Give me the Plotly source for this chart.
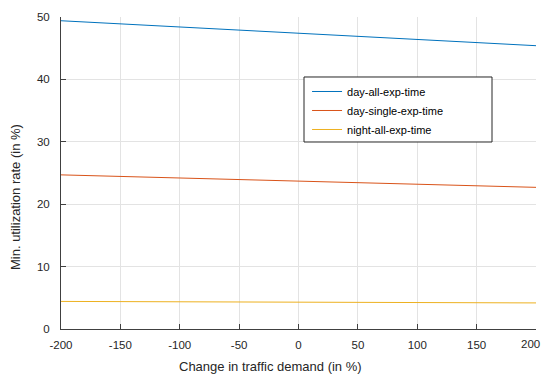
import plotly.graph_objects as go

# Change in traffic demand (in %)
demand_change = [-200, -150, -100, -50, 0, 50, 100, 150, 200]

# Minimum utilization rate (in %) per scheduling variant
day_all_exp_time = [49.4, 48.9, 48.4, 47.9, 47.4, 46.9, 46.4, 45.9, 45.4]
day_single_exp_time = [24.7, 24.45, 24.2, 23.95, 23.7, 23.45, 23.2, 22.95, 22.7]
night_all_exp_time = [4.42, 4.39, 4.36, 4.33, 4.30, 4.27, 4.24, 4.21, 4.18]

series_names = ["day-all-exp-time", "day-single-exp-time", "night-all-exp-time"]
series_values = [day_all_exp_time, day_single_exp_time, night_all_exp_time]
series_colors = ["#0072BD", "#D95319", "#EDB120"]

x_ticks = [-200, -150, -100, -50, 0, 50, 100, 150, 200]
y_ticks = [0, 10, 20, 30, 40, 50]

FONT = "Liberation Sans, Arial, Helvetica, sans-serif"
TEXT_COLOR = "#262626"

fig = go.Figure()
for name, vals, col in zip(series_names, series_values, series_colors):
    fig.add_trace(go.Scatter(
        x=demand_change, y=vals, mode="lines", name=name,
        line=dict(color=col, width=1),
    ))

axis_common = dict(
    showline=True, linecolor="#404040", linewidth=1,
    ticks="inside", ticklen=5, tickcolor="#404040", tickwidth=1,
    showgrid=True, gridcolor="#e3e3e3", gridwidth=1,
    zeroline=False, mirror=False,
    automargin=False,
    ticklabeloverflow="allow",
    tickfont=dict(family=FONT, size=11.5, color=TEXT_COLOR),
)

# the last x label sits at the page edge, so it is drawn right-aligned separately
x_ticktext = [str(v) for v in x_ticks[:-1]] + [""]

fig.update_xaxes(
    range=[-200, 200], tickvals=x_ticks,
    ticktext=x_ticktext,
    ticklabelstandoff=5,
    **axis_common,
)
fig.update_yaxes(
    range=[0, 50], tickvals=y_ticks,
    ticktext=[str(v) for v in y_ticks],
    ticklabelstandoff=8,
    **axis_common,
)

fig.add_annotation(
    text=str(x_ticks[-1]), x=x_ticks[-1], y=0, xref="x", yref="y",
    xanchor="right", yanchor="top", xshift=6, yshift=-7, showarrow=False,
    font=dict(family=FONT, size=11.5, color=TEXT_COLOR),
)

# axis titles as annotations
fig.add_annotation(
    text="Change in traffic demand (in %)",
    xref="paper", yref="paper", x=0.44, y=-0.1186,
    xanchor="center", yanchor="middle", showarrow=False,
    font=dict(family=FONT, size=13, color=TEXT_COLOR),
)
fig.add_annotation(
    text="Min. utilization rate (in %)", textangle=-90,
    xref="paper", yref="paper", x=-0.0968, y=0.423,
    xanchor="center", yanchor="middle", showarrow=False,
    font=dict(family=FONT, size=13, color=TEXT_COLOR),
)

# legend frame
fig.add_shape(
    type="rect", xref="paper", yref="paper",
    x0=0.5116, x1=0.9074, y0=0.5994, y1=0.8077,
    line=dict(color="#262626", width=1), fillcolor="white", layer="above",
)

fig.update_layout(
    width=542, height=376,
    margin=dict(l=61, r=6, t=17, b=47),
    plot_bgcolor="white", paper_bgcolor="white",
    showlegend=True,
    legend=dict(
        x=0.518, y=0.8077, xanchor="left", yanchor="top",
        bgcolor="rgba(0,0,0,0)", borderwidth=0,
        font=dict(family=FONT, size=11, color="#000000"),
        tracegroupgap=0,
    ),
)

fig.write_html("out.html")
